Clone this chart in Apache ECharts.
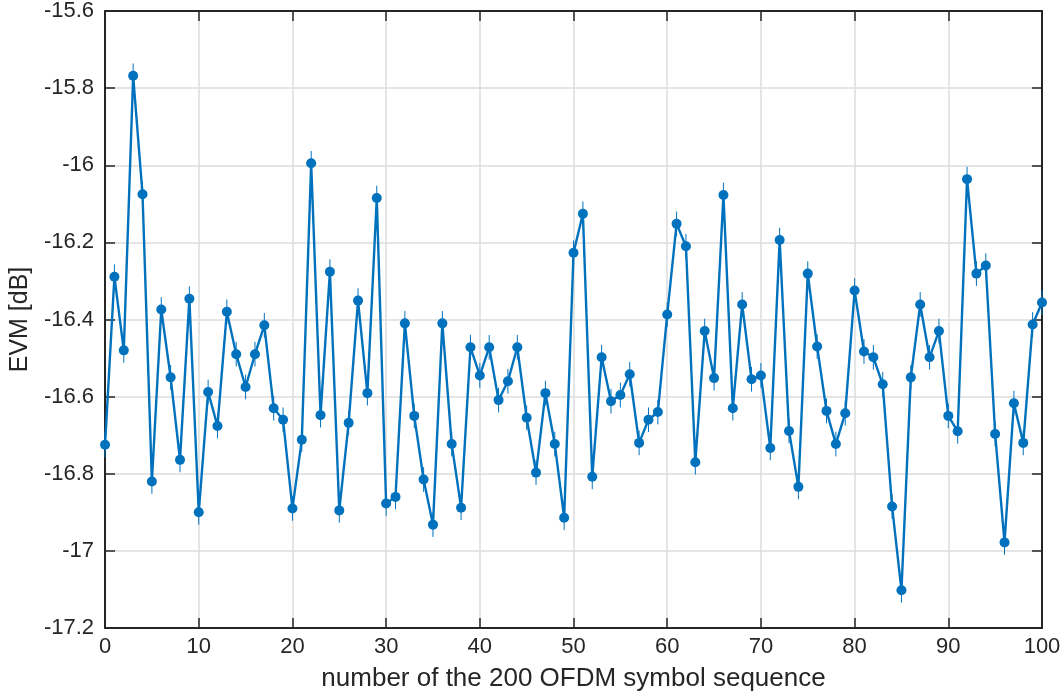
<!DOCTYPE html>
<html>
<head>
<meta charset="utf-8">
<script src="https://cdn.jsdelivr.net/npm/echarts@6/dist/echarts.min.js"></script>
<style>
html,body{margin:0;padding:0;background:#fff;}
#chart{width:1064px;height:699px;}
</style>
</head>
<body>
<div id="chart"></div>
<script>
// symbol index 0..100
const symbolIndex = [];
for (let i = 0; i <= 100; i++) symbolIndex.push(i);

// EVM values [dB]
const evm = [
  -16.725, -16.289, -16.480, -15.768, -16.075, -16.820, -16.374, -16.550, -16.764, -16.346,
  -16.900, -16.588, -16.676, -16.380, -16.490, -16.575, -16.490, -16.415, -16.630, -16.660,
  -16.890, -16.712, -15.995, -16.648, -16.276, -16.895, -16.668, -16.351, -16.591, -16.085,
  -16.877, -16.860, -16.410, -16.650, -16.815, -16.932, -16.410, -16.723, -16.888, -16.472,
  -16.545, -16.472, -16.609, -16.560, -16.472, -16.655, -16.797, -16.591, -16.723, -16.914,
  -16.227, -16.126, -16.808, -16.498, -16.612, -16.596, -16.542, -16.720, -16.660, -16.640,
  -16.387, -16.152, -16.210, -16.770, -16.430, -16.552, -16.077, -16.630, -16.361, -16.555,
  -16.545, -16.733, -16.194, -16.689, -16.834, -16.281, -16.470, -16.637, -16.723, -16.643,
  -16.325, -16.483, -16.498, -16.568, -16.885, -17.102, -16.550, -16.361, -16.498, -16.430,
  -16.650, -16.690, -16.036, -16.281, -16.260, -16.697, -16.978, -16.617, -16.720, -16.413,
  -16.356
];

// half-length of the small error bars [dB]
const errHalf = 0.032;

const xTicks = [0, 10, 20, 30, 40, 50, 60, 70, 80, 90, 100];
const yTicks = [-17.2, -17, -16.8, -16.6, -16.4, -16.2, -16, -15.8, -15.6];

const lineData = symbolIndex.map((x, i) => [x, evm[i]]);
const errData = symbolIndex.map((x, i) => [x, evm[i] - errHalf, evm[i] + errHalf]);

const FONT = '"Liberation Sans", Arial, Helvetica, sans-serif';
const AX = '#262626';
const BLUE = '#0072BD';

const chart = echarts.init(document.getElementById('chart'), null, {renderer: 'canvas'});

const commonX = {
  type: 'value', min: xTicks[0], max: xTicks[xTicks.length - 1], interval: 10
};
const commonY = {
  type: 'value', min: yTicks[0], max: yTicks[yTicks.length - 1], interval: 0.2
};

chart.setOption({
  animation: false,
  backgroundColor: '#fff',
  grid: {left: 103, right: 22, top: 8, bottom: 71, containLabel: false},
  xAxis: [
    Object.assign({}, commonX, {
      position: 'bottom',
      name: 'number of the 200 OFDM symbol sequence',
      nameLocation: 'middle',
      nameGap: 38,
      nameTextStyle: {fontFamily: FONT, fontSize: 26, color: AX},
      axisLine: {show: true, onZero: false, lineStyle: {color: AX, width: 2}},
      axisTick: {show: true, inside: true, length: 10, lineStyle: {color: AX, width: 1.5}},
      axisLabel: {show: true, margin: 8, fontFamily: FONT, fontSize: 22, color: AX},
      splitLine: {show: true, lineStyle: {color: '#dcdcdc', width: 1.5}}
    }),
    Object.assign({}, commonX, {
      position: 'top',
      axisLine: {show: true, onZero: false, lineStyle: {color: AX, width: 2}},
      axisTick: {show: true, inside: true, length: 10, lineStyle: {color: AX, width: 1.5}},
      axisLabel: {show: false},
      splitLine: {show: false}
    })
  ],
  yAxis: [
    Object.assign({}, commonY, {
      position: 'left',
      name: 'EVM [dB]',
      nameLocation: 'middle',
      nameRotate: 90,
      nameGap: 68,
      nameTextStyle: {fontFamily: FONT, fontSize: 25, color: AX},
      axisLine: {show: true, onZero: false, lineStyle: {color: AX, width: 2}},
      axisTick: {show: true, inside: true, length: 10, lineStyle: {color: AX, width: 1.5}},
      axisLabel: {
        show: true, margin: 11, fontFamily: FONT, fontSize: 22, color: AX,
        formatter: v => String(parseFloat(v.toFixed(1)))
      },
      splitLine: {show: true, lineStyle: {color: '#dcdcdc', width: 1.5}}
    }),
    Object.assign({}, commonY, {
      position: 'right',
      axisLine: {show: true, onZero: false, lineStyle: {color: AX, width: 2}},
      axisTick: {show: true, inside: true, length: 10, lineStyle: {color: AX, width: 1.5}},
      axisLabel: {show: false},
      splitLine: {show: false}
    })
  ],
  series: [
    {
      type: 'custom',
      xAxisIndex: 0, yAxisIndex: 0,
      data: errData,
      z: 2,
      renderItem: function (params, api) {
        const p1 = api.coord([api.value(0), api.value(1)]);
        const p2 = api.coord([api.value(0), api.value(2)]);
        return {
          type: 'line',
          shape: {x1: p1[0], y1: p1[1], x2: p2[0], y2: p2[1]},
          style: {stroke: BLUE, lineWidth: 1}
        };
      },
      silent: true
    },
    {
      type: 'line',
      xAxisIndex: 0, yAxisIndex: 0,
      data: lineData,
      z: 3,
      lineStyle: {color: BLUE, width: 2.4},
      itemStyle: {color: BLUE},
      symbol: 'circle',
      symbolSize: 10,
      showSymbol: true
    }
  ]
});
</script>
</body>
</html>
